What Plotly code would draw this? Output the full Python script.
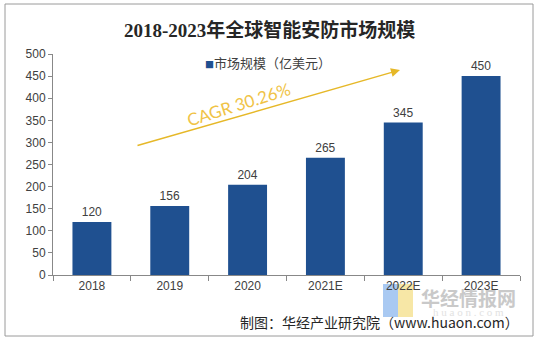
import plotly.graph_objects as go

categories = ["2018", "2019", "2020", "2021E", "2022E", "2023E"]
values = [120, 156, 204, 265, 345, 450]
y_ticks = [0, 50, 100, 150, 200, 250, 300, 350, 400, 450, 500]
title_text = "2018-2023年全球智能安防市场规模"
legend_text = "市场规模（亿美元）"
cagr_text = "CAGR 30.26%"
source_text = "制图：华经产业研究院（www.huaon.com）"

W, H = 538, 341
L, R, T, B = 53, 18, 54, 66
PW, PH = W - L - R, H - T - B


def px(x):
    return (x - L) / PW


def py(y):
    return (H - B - y) / PH


BAR = "#1F5090"
TXT = "#404040"

fig = go.Figure()
fig.add_trace(go.Bar(
    x=categories, y=values, marker_color=BAR, marker_line_width=0,
    text=values, textposition="outside", cliponaxis=False,
    textfont=dict(family="Liberation Sans, Arial", size=12, color=TXT),
    showlegend=False, width=0.5,
))

fig.update_layout(
    width=W, height=H, autosize=False,
    margin=dict(l=L, r=R, t=T, b=B),
    paper_bgcolor="white", plot_bgcolor="white",
    bargap=0.5,
    xaxis=dict(
        type="category", showgrid=False, showline=True, linecolor="#888888", linewidth=1,
        ticks="outside", ticklen=5, tickcolor="#888888", tickson="boundaries",
        tickfont=dict(family="Liberation Sans, Arial", size=12, color=TXT),
    ),
    yaxis=dict(
        range=[0, 500], tickvals=y_ticks, showgrid=False, zeroline=False,
        showline=True, linecolor="#888888", linewidth=1,
        ticks="outside", ticklen=4, tickcolor="#888888",
        tickfont=dict(family="Liberation Sans, Arial", size=12, color=TXT),
    ),
)

shapes = [
    dict(type="rect", xref="paper", yref="paper", x0=px(5), x1=px(533), y0=py(336), y1=py(4),
         line=dict(color="#9A9A9A", width=1), layer="below"),
    dict(type="rect", xref="paper", yref="paper", x0=px(383), x1=px(398), y0=py(317), y1=py(284),
         fillcolor="#A9C9F2", line_width=0, layer="below"),
    dict(type="rect", xref="paper", yref="paper", x0=px(398), x1=px(413), y0=py(317), y1=py(284),
         fillcolor="#F7E7A6", line_width=0, layer="below"),
]

annotations = [
    dict(text=f"<b>{title_text}</b>", xref="paper", yref="paper", x=px(269), y=py(30),
         showarrow=False, xanchor="center", yanchor="middle",
         font=dict(family="Liberation Serif, Noto Sans CJK SC", size=19, color="#262626")),
    dict(text=f"<span style='font-size:9px;color:{BAR}'>■</span>{legend_text}", xref="paper", yref="paper",
         x=px(203), y=py(62), showarrow=False, xanchor="left", yanchor="middle",
         font=dict(family="Noto Sans CJK SC", size=13, color=TXT)),
    dict(text="", xref="paper", yref="paper", x=px(400), y=py(70), ax=136 - 400, ay=146 - 70,
         axref="pixel", ayref="pixel", showarrow=True, arrowhead=2, arrowsize=1.2, arrowwidth=1.5,
         arrowcolor="#E6B828"),
    dict(text=cagr_text, xref="paper", yref="paper", x=px(238), y=py(104), showarrow=False,
         textangle=-17.5, xanchor="center", yanchor="middle",
         font=dict(family="Lato, Open Sans", size=17, color="#F0C346")),
    dict(text="<b>华经情报网</b>", xref="paper", yref="paper", x=px(468), y=py(297), showarrow=False,
         xanchor="center", yanchor="middle",
         font=dict(family="Noto Sans CJK SC", size=19, color="#C9C9C9")),
    dict(text="h u a o n . c o m", xref="paper", yref="paper", x=px(468), y=py(312), showarrow=False,
         xanchor="center", yanchor="middle",
         font=dict(family="Liberation Serif", size=11, color="#E2E2E2")),
    dict(text=source_text, xref="paper", yref="paper", x=px(521), y=py(322), showarrow=False,
         xanchor="right", yanchor="middle",
         font=dict(family="Noto Sans CJK SC", size=14, color="#262626")),
]

fig.update_layout(shapes=shapes, annotations=annotations)
fig.write_html("out.html")
